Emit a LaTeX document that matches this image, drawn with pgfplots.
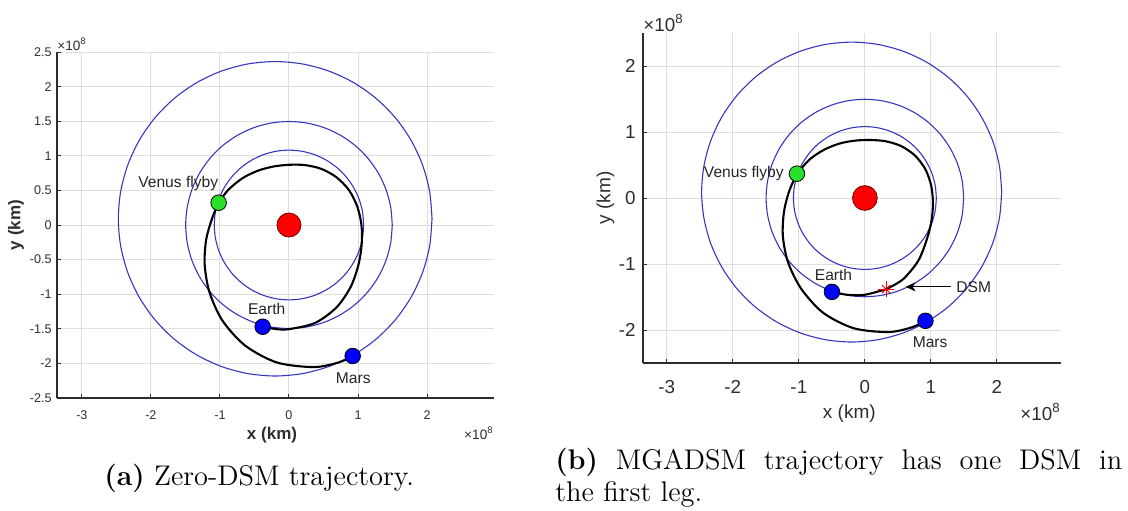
\documentclass[border=0pt]{standalone}
\usepackage{fontspec}
\usepackage{pgfplots}
\usepackage{pgfplotstable}
\pgfplotsset{compat=1.18}
\usetikzlibrary{arrows.meta}
\newfontfamily\plotfont{Liberation Sans}

\definecolor{axc}{RGB}{45,45,45}
\definecolor{gridc}{RGB}{222,222,222}
\definecolor{orbitc}{RGB}{55,55,190}
\definecolor{venusc}{RGB}{40,225,40}

% Orbit of Venus (circle, 1e8 km)
\pgfplotstableread{
x y
1.082 0
1.0656 0.1878
1.0168 0.3700
0.9370 0.5410
0.8288 0.6955
0.6955 0.8288
0.5410 0.9370
0.3700 1.0168
0.1878 1.0656
0 1.082
-0.1878 1.0656
-0.3700 1.0168
-0.5410 0.9370
-0.6955 0.8288
-0.8288 0.6955
-0.9370 0.5410
-1.0168 0.3700
-1.0656 0.1878
-1.082 0
-1.0656 -0.1878
-1.0168 -0.3700
-0.9370 -0.5410
-0.8288 -0.6955
-0.6955 -0.8288
-0.5410 -0.9370
-0.3700 -1.0168
-0.1878 -1.0656
0 -1.082
0.1878 -1.0656
0.3700 -1.0168
0.5410 -0.9370
0.6955 -0.8288
0.8288 -0.6955
0.9370 -0.5410
1.0168 -0.3700
1.0656 -0.1878
1.082 0
}\venusorbit

% Orbit of Earth
\pgfplotstableread{
x y
1.496 0
1.4733 0.2597
1.4058 0.5116
1.2955 0.7480
1.1459 0.9616
0.9616 1.1459
0.7480 1.2955
0.5116 1.4058
0.2597 1.4733
0 1.496
-0.2597 1.4733
-0.5116 1.4058
-0.7480 1.2955
-0.9616 1.1459
-1.1459 0.9616
-1.2955 0.7480
-1.4058 0.5116
-1.4733 0.2597
-1.496 0
-1.4733 -0.2597
-1.4058 -0.5116
-1.2955 -0.7480
-1.1459 -0.9616
-0.9616 -1.1459
-0.7480 -1.2955
-0.5116 -1.4058
-0.2597 -1.4733
0 -1.496
0.2597 -1.4733
0.5116 -1.4058
0.7480 -1.2955
0.9616 -1.1459
1.1459 -0.9616
1.2955 -0.7480
1.4058 -0.5116
1.4733 -0.2597
1.496 0
}\earthorbit

% Orbit of Mars (eccentric, centre offset from the Sun)
\pgfplotstableread{
x y
2.072 0.09
2.0375 0.4844
1.935 0.867
1.7676 1.226
1.5404 1.5504
1.2604 1.8304
0.936 2.0576
0.577 2.225
0.1944 2.3275
-0.2 2.362
-0.5944 2.3275
-0.977 2.225
-1.336 2.0576
-1.6604 1.8304
-1.9404 1.5504
-2.1676 1.226
-2.335 0.867
-2.4375 0.4844
-2.472 0.09
-2.4375 -0.3044
-2.335 -0.687
-2.1676 -1.046
-1.9404 -1.3704
-1.6604 -1.6504
-1.336 -1.8776
-0.977 -2.045
-0.5944 -2.1475
-0.2 -2.182
0.1944 -2.1475
0.577 -2.045
0.936 -1.8776
1.2604 -1.6504
1.5404 -1.3704
1.7676 -1.046
1.935 -0.687
2.0375 -0.3044
2.072 0.09
}\marsorbit

\pgfplotsset{
  orbitplot/.style={color=orbitc, line width=0.55pt, smooth, mark=none},
  trajplot/.style={color=black, line width=1.05pt, smooth, mark=none},
  planet/.style={only marks, mark=*, mark size=3.9pt,
    mark options={fill=#1, draw=black, line width=0.4pt}},
  sunplot/.style={only marks, mark=*, mark size=6pt,
    mark options={fill=red, draw=red!45!black, line width=0.4pt}},
  matlabaxis/.style={
    scale only axis, clip=false,
    xmin=-3.36, xmax=2.97, ymin=-2.5, ymax=2.5,
    axis x line*=bottom, axis y line*=left,
    axis line style={color=axc, line width=0.6pt},
    xtick={-3,-2,-1,0,1,2},
    grid=major, grid style={color=gridc, line width=0.5pt},
    tick align=inside, major tick length=2pt,
    tick style={color=axc, line width=0.5pt},
    /pgf/number format/assume math mode=true,
  },
}

\begin{document}
\begin{tikzpicture}
\useasboundingbox (0,0) rectangle (564pt,255pt);

% ---------------- (a) zero-DSM trajectory ----------------
\begin{axis}[matlabaxis,
  at={(28.5pt,56pt)}, anchor=south west,
  width=218.5pt, height=173pt,
  ytick={-2.5,-2,-1.5,-1,-0.5,0,0.5,1,1.5,2,2.5},
  tick label style={font=\plotfont\fontsize{6.3}{7}\selectfont, text=axc},
  yticklabel style={inner sep=1pt, xshift=-1.5pt},
  xticklabel style={yshift=-3pt},
]
\addplot[orbitplot] table {\venusorbit};
\addplot[orbitplot] table {\earthorbit};
\addplot[orbitplot] table {\marsorbit};

\addplot[sunplot] coordinates {(0,0)};
\addplot[planet=venusc] coordinates {(-1.019,0.322)};
\addplot[planet=blue] coordinates {(-0.381,-1.470) (0.923,-1.893)};

% Earth -> Venus leg
\addplot[trajplot] coordinates {
(-0.381,-1.470) (-0.185,-1.504) (0,-1.505) (0.379,-1.415) (0.688,-1.191)
(0.894,-0.894) (1.005,-0.580) (1.053,-0.282) (1.050,0) (0.990,0.265)
(0.870,0.503) (0.689,0.689) (0.469,0.811) (0.232,0.866) (0,0.870)
(-0.226,0.845) (-0.453,0.784) (-0.675,0.675) (-0.879,0.508) (-1.019,0.322)};
% Venus -> Mars leg
\addplot[trajplot] coordinates {
(-1.019,0.322) (-1.113,0.097) (-1.199,-0.211) (-1.221,-0.569) (-1.153,-0.967)
(-0.965,-1.379) (-0.634,-1.743) (-0.174,-1.987) (0.362,-2.053) (0.722,-1.985)
(0.923,-1.893)};

\begin{scope}[every node/.style={font=\plotfont\fontsize{7.8}{9}\selectfont, text=black!85, inner sep=0pt}]
\node at (axis cs:-1.604,0.603) {Venus flyby};
\node at (axis cs:-0.323,-1.214) {Earth};
\node at (axis cs:0.932,-2.207) {Mars};
\end{scope}

\node[font=\plotfont\bfseries\fontsize{8.5}{10}\selectfont, text=axc, inner sep=0pt]
  at (axis description cs:0.492,-0.107) {x (km)};
\node[font=\plotfont\bfseries\fontsize{8.5}{10}\selectfont, text=axc, inner sep=0pt, rotate=90]
  at (axis description cs:-0.0938,0.5) {y (km)};
\node[font=\plotfont\fontsize{6.8}{8}\selectfont, text=axc, inner sep=0pt, anchor=west]
  at ([yshift=4pt]axis description cs:0,1) {×10\textsuperscript{8}};
\node[font=\plotfont\fontsize{6.8}{8}\selectfont, text=axc, inner sep=0pt, anchor=east]
  at ([yshift=-17.5pt]axis description cs:1,0) {×10\textsuperscript{8}};
\end{axis}

% ---------------- (b) MGADSM trajectory ----------------
\begin{axis}[matlabaxis,
  at={(321.5pt,73.5pt)}, anchor=south west,
  width=209pt, height=165pt,
  ytick={-2,-1,0,1,2},
  tick label style={font=\plotfont\fontsize{9.4}{11}\selectfont, text=axc},
  yticklabel style={inner sep=1pt, xshift=-2.5pt},
  xticklabel style={yshift=-5pt},
]
\addplot[orbitplot] table {\venusorbit};
\addplot[orbitplot] table {\earthorbit};
\addplot[orbitplot] table {\marsorbit};

\addplot[sunplot, mark size=6.2pt] coordinates {(0,0)};
\addplot[planet=venusc] coordinates {(-1.029,0.369)};
\addplot[planet=blue] coordinates {(-0.499,-1.422) (0.917,-1.861)};

% Earth -> DSM arc
\addplot[trajplot] coordinates {
(-0.499,-1.422) (-0.259,-1.467) (0,-1.466) (0.322,-1.381)};
% DSM -> Venus arc
\addplot[trajplot] coordinates {
(0.322,-1.381) (0.575,-1.233) (0.804,-0.958) (0.930,-0.651) (1.005,-0.366)
(1.031,-0.090) (1.006,0.177) (0.920,0.429) (0.762,0.640) (0.551,0.786)
(0.313,0.860) (0.077,0.879) (-0.153,0.869) (-0.385,0.825) (-0.615,0.733)
(-0.836,0.585) (-1.029,0.369)};
% Venus -> Mars leg
\addplot[trajplot] coordinates {
(-1.029,0.369) (-1.148,0.100) (-1.226,-0.216) (-1.242,-0.579) (-1.163,-0.976)
(-0.964,-1.376) (-0.633,-1.738) (-0.173,-1.972) (0.358,-2.031) (0.713,-1.959)
(0.917,-1.861)};

% deep-space manoeuvre
\addplot[only marks, mark=+, mark size=4pt, color=red, mark options={line width=0.45pt}]
  coordinates {(0.322,-1.381)};
\addplot[only marks, mark=x, mark size=2.9pt, color=red, mark options={line width=0.45pt}]
  coordinates {(0.322,-1.381)};
\addplot[black, line width=0.55pt, -{Stealth[length=5pt, width=4.5pt, inset=1.5pt]}]
  coordinates {(1.30,-1.346) (0.617,-1.346)};

\begin{scope}[every node/.style={font=\plotfont\fontsize{7.8}{9}\selectfont, text=black!85, inner sep=0pt}]
\node at (axis cs:-1.833,0.374) {Venus flyby};
\node at (axis cs:-0.475,-1.169) {Earth};
\node at (axis cs:0.988,-2.188) {Mars};
\node at (axis cs:1.648,-1.346) {DSM};
\end{scope}

\node[font=\plotfont\fontsize{9.5}{11}\selectfont, text=axc, inner sep=0pt]
  at (axis description cs:0.4935,-0.1525) {x (km)};
\node[font=\plotfont\fontsize{9.5}{11}\selectfont, text=axc, inner sep=0pt, rotate=90]
  at (axis description cs:-0.0897,0.5) {y (km)};
\node[font=\plotfont\fontsize{9.4}{11}\selectfont, text=axc, inner sep=0pt, anchor=west]
  at ([yshift=5pt]axis description cs:0,1) {×10\textsuperscript{8}};
\node[font=\plotfont\fontsize{9.4}{11}\selectfont, text=axc, inner sep=0pt, anchor=east]
  at ([yshift=-24.5pt]axis description cs:1,0) {×10\textsuperscript{8}};
\end{axis}

% ---------------- sub-captions ----------------
\node[anchor=base west, inner sep=0pt, font=\fontsize{14.2}{17}\selectfont]
  at (52pt,12.5pt) {\textbf{(a)} Zero-DSM trajectory.};
\node[anchor=base west, inner sep=0pt, font=\fontsize{14.2}{17}\selectfont]
  at (277.5pt,20.5pt) {\makebox[283.5pt][s]{\textbf{(b)} MGADSM trajectory has one DSM in}};
\node[anchor=base west, inner sep=0pt, font=\fontsize{14.2}{17}\selectfont]
  at (277.5pt,4.5pt) {the first leg.};
\end{tikzpicture}
\end{document}
